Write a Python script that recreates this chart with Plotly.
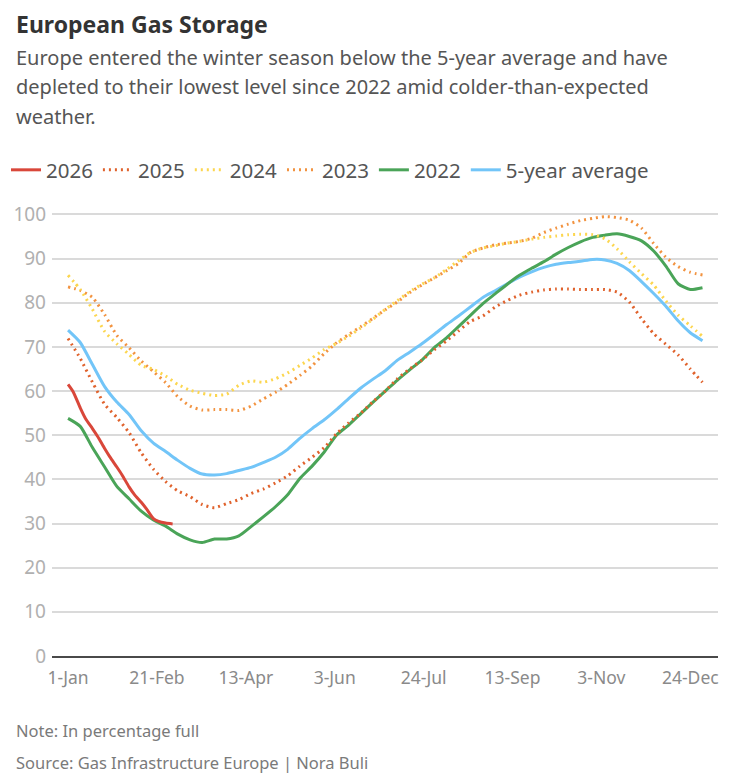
import pandas as pd
import plotly.graph_objects as go

# weekly readings, 1-Jan .. 31-Dec (day-of-year plotted on a 2025 calendar)
dates = pd.date_range("2025-01-01", periods=53, freq="7D")

avg5 = [73.8, 71, 66, 61, 57.5, 54.7, 51, 48.2, 46.3, 44.3, 42.5, 41.2, 41, 41.3,
        42, 42.7, 43.8, 45, 46.8, 49.3, 51.5, 53.5, 55.8, 58.3, 60.7, 62.7, 64.6,
        67, 68.8, 70.7, 72.8, 75, 77, 79.1, 81.2, 82.7, 84.3, 85.8, 87, 88, 88.7,
        89.1, 89.4, 89.8, 89.7, 88.9, 87.3, 84.8, 82.1, 79.2, 75.9, 73.2, 71.4]

y2022 = [53.8, 52, 47.2, 42.8, 38.4, 35.6, 32.8, 30.8, 29.4, 27.6, 26.3, 25.7,
         26.5, 26.5, 27.2, 29.3, 31.5, 33.8, 36.5, 40.2, 43, 46.2, 50, 52.3, 54.9,
         57.5, 60, 62.5, 64.8, 67, 69.8, 72, 74.6, 77.2, 79.8, 82, 84.2, 86.2, 87.8,
         89.3, 91, 92.5, 93.8, 94.8, 95.3, 95.6, 95, 94, 91.7, 88.3, 84.3, 83, 83.4]

y2023 = [83.6, 82.8, 81.2, 77.3, 72.6, 69.8, 66.8, 64.4, 61.9, 58.7, 56.6, 55.7,
         55.8, 55.8, 55.6, 56.6, 58.2, 59.7, 61.5, 63.5, 65.7, 68.5, 70.9, 72.8,
         74.6, 76.5, 78.4, 80.2, 82.3, 84, 85.6, 87.2, 88.9, 91.4, 92.4, 93.1, 93.5,
         93.9, 94.6, 95.9, 96.9, 97.8, 98.6, 99.1, 99.5, 99.3, 98.7, 96.9, 93.4,
         90.3, 88.2, 86.9, 86.3]

y2024 = [86.2, 83, 78.5, 73.5, 70.7, 68.3, 65.8, 64.9, 63.4, 61.5, 60.2, 59.5, 59,
         59.3, 61.3, 62.3, 62, 62.8, 64.1, 65.8, 67.5, 69.4, 70.8, 72.4, 74.3, 76.3,
         78.5, 80.5, 82.5, 84.2, 85.6, 87.5, 89.5, 91.4, 92.4, 92.9, 93.5, 93.9,
         94.4, 94.8, 95.1, 95.4, 95.5, 95.4, 94.5, 92.2, 89.3, 86.6, 84, 80.4, 77.2,
         74.8, 72.4]

y2025 = [71.9, 67.4, 62, 57, 54, 50.6, 46, 42.3, 39.5, 37.4, 36.1, 34.3, 33.6,
         34.5, 35.4, 36.8, 37.8, 39.2, 40.8, 43, 45, 47.2, 50.3, 52.8, 55, 57.6, 60,
         62.8, 65, 67, 69.3, 71.3, 73.6, 75.8, 77, 79, 80.5, 81.7, 82.4, 82.9, 83.1,
         83.1, 83, 83, 83, 82.4, 80.2, 76.4, 73, 70.6, 68.2, 65, 62]

days2026 = [0, 3, 7, 10, 14, 17, 21, 24, 28, 31, 35, 38, 42, 45, 49, 52, 56, 60]
y2026 = [61.5, 59.8, 56.2, 53.8, 51.5, 49.7, 47, 45.1, 42.8, 41, 38.3, 36.6, 34.8,
         33.3, 31.1, 30.5, 30.1, 29.9]

tick_dates = pd.date_range("2025-01-01", periods=8, freq="51D")
tick_text = ["1-Jan", "21-Feb", "13-Apr", "3-Jun", "24-Jul", "13-Sep", "3-Nov", "24-Dec"]
y_ticks = list(range(0, 101, 10))

series = [
    ("2026", pd.Timestamp("2025-01-01") + pd.to_timedelta(days2026, unit="D"), y2026, "#d9473a", "solid"),
    ("2025", dates, y2025, "#e0622c", "2px,4px"),
    ("2024", dates, y2024, "#fcd64f", "2px,4px"),
    ("2023", dates, y2023, "#f29340", "2px,4px"),
    ("2022", dates, y2022, "#4aa458", "solid"),
    ("5-year average", dates, avg5, "#72c5f8", "solid"),
]

# the page body keeps an 8px margin, so the figure starts 8px in from the window
OFF = 8
W, H = 750 - OFF, 776 - OFF
L, R, T, B = 52 - OFF, 718 - OFF, 210 - OFF, 656 - OFF


def px(x):
    return (x - OFF - L) / (R - L)


def py(y):
    return (B - (y - OFF)) / (B - T)


fig = go.Figure()
# draw back-to-front so 2026 ends up on top, legend keeps original order
names = [s[0] for s in series]
for name, x, y, color, dash in reversed(series):
    fig.add_trace(
        go.Scatter(
            x=x, y=y, name=name, mode="lines",
            line=dict(color=color, width=3, dash=dash, shape="spline", smoothing=0.6),
            legendrank=names.index(name),
        )
    )

x0 = pd.Timestamp("2025-01-01")
fig.update_xaxes(
    range=[x0 - pd.Timedelta(days=9.2), x0 + pd.Timedelta(days=372.9)],
    tickvals=tick_dates, ticktext=tick_text,
    showgrid=False, showline=True, linecolor="#4a4a4a", linewidth=2,
    ticks="", ticklabelstandoff=5,
    tickfont=dict(family="Noto Sans", size=17.5, color="#8a8a8a"),
)
fig.update_yaxes(
    range=[0, 101], tickvals=y_ticks,
    showgrid=True, gridcolor="#dadada", gridwidth=1.5, zeroline=False,
    ticks="", ticklabelstandoff=5,
    tickfont=dict(family="Noto Sans", size=19, color="#b0b0b0"),
)

annotations = [
    ("<b>European Gas Storage</b>", 14, 24, 23, "#333333"),
    ("Europe entered the winter season below the 5-year average and have", 14, 57, 20, "#555555"),
    ("depleted to their lowest level since 2022 amid colder-than-expected", 14, 87, 20, "#555555"),
    ("weather.", 14, 117, 20, "#555555"),
    ("Note: In percentage full", 14, 730, 16.5, "#7a7a7a"),
    ("Source: Gas Infrastructure Europe | Nora Buli", 14, 762, 16.5, "#7a7a7a"),
]
for text, ax, ay, size, color in annotations:
    fig.add_annotation(
        text=text, x=px(ax), y=py(ay), xref="paper", yref="paper",
        xanchor="left", yanchor="middle", showarrow=False,
        font=dict(family="Noto Sans", size=size, color=color),
    )

fig.update_layout(
    width=W, height=H,
    margin=dict(l=L, r=W - R, t=T, b=H - B, autoexpand=False),
    paper_bgcolor="white", plot_bgcolor="white",
    showlegend=True,
    legend=dict(
        orientation="h", x=px(6), y=py(170), xanchor="left", yanchor="middle",
        font=dict(family="Noto Sans", size=20.5, color="#555555"),
        itemwidth=30, traceorder="normal",
    ),
)

fig.write_html("out.html")
